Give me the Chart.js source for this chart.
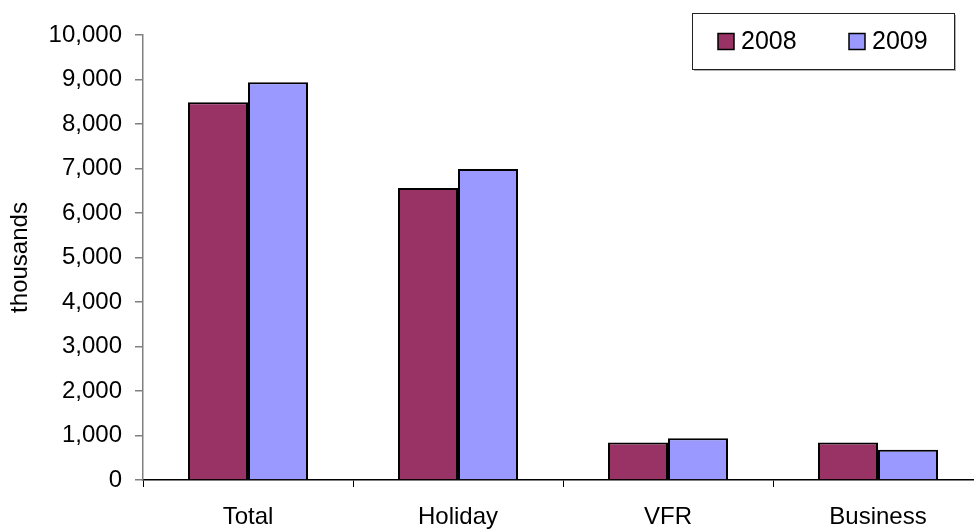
<!DOCTYPE html>
<html>
<head>
<meta charset="utf-8">
<script src="https://cdn.jsdelivr.net/npm/chart.js@4/dist/chart.umd.min.js"></script>
<style>
  html, body { margin: 0; padding: 0; background: #fff; overflow: hidden; }
  #wrap { width: 990px; height: 529px; position: relative; }
</style>
</head>
<body>
<div id="wrap"><canvas id="chart"></canvas></div>
<script>
// Trips by purpose, thousands
const categories = ['Total', 'Holiday', 'VFR', 'Business'];
const seriesLabels = ['2008', '2009'];
const values2008 = [8490, 6560, 840, 840];
const values2009 = [8940, 6990, 940, 680];
const yTickMax = 10000;
const yTickStep = 1000;
const yTitle = 'thousands';

const FONT = '"Liberation Sans", Arial, sans-serif';
const colours = ['#993366', '#9999FF'];

// Boxed legend in the top-right corner of the plot
const boxedLegend = {
  id: 'boxedLegend',
  afterDraw(chart) {
    const ctx = chart.ctx;
    const area = chart.chartArea;
    const x0 = area.right - 291, y0 = area.top - 22, w = 262, h = 56;
    ctx.save();
    // soft shadow
    ctx.fillStyle = '#b0b0b0';
    ctx.fillRect(x0 + 2, y0 + 2, w, h);
    ctx.fillStyle = '#fff';
    ctx.fillRect(x0, y0, w, h);
    ctx.strokeStyle = '#222';
    ctx.lineWidth = 1;
    ctx.strokeRect(x0 + 0.5, y0 + 0.5, w, h);
    ctx.font = '25px ' + FONT;
    ctx.textBaseline = 'middle';
    ctx.fillStyle = '#000';
    const cy = y0 + 28.5;
    const starts = [x0 + 26, x0 + 157];
    chart.data.datasets.forEach((ds, i) => {
      const sx = starts[i];
      ctx.fillStyle = ds.backgroundColor;
      ctx.fillRect(sx, cy - 8, 16, 16);
      ctx.strokeStyle = '#000';
      ctx.lineWidth = 1.5;
      ctx.strokeRect(sx, cy - 8, 16, 16);
      ctx.fillStyle = '#000';
      ctx.fillText(ds.label, sx + 23, cy + 1);
    });
    ctx.restore();
  }
};

new Chart(document.getElementById('chart'), {
  type: 'bar',
  data: {
    labels: categories,
    datasets: [
      { label: seriesLabels[0], data: values2008, backgroundColor: colours[0] },
      { label: seriesLabels[1], data: values2009, backgroundColor: colours[1] }
    ]
  },
  options: {
    responsive: true,
    maintainAspectRatio: false,
    animation: false,
    locale: 'en-US',
    layout: { padding: { top: 35, right: 7, bottom: 0, left: 0 } },
    datasets: {
      bar: {
        categoryPercentage: 120 / 210,
        barPercentage: 1,
        borderColor: '#000',
        borderWidth: 2
      }
    },
    plugins: {
      legend: { display: false },
      tooltip: { enabled: false }
    },
    scales: {
      x: {
        grid: { display: true, drawOnChartArea: false, offset: true, tickLength: 7, color: '#000', lineWidth: 1 },
        border: { display: true, color: '#000', width: 1.5 },
        ticks: { color: '#000', font: { family: FONT, size: 24 }, padding: 16, maxRotation: 0 },
        afterFit(scale) { scale.height = 49; }
      },
      y: {
        min: 0,
        max: yTickMax,
        grid: { display: true, drawOnChartArea: false, tickLength: 8, color: '#808080', lineWidth: 1.5 },
        border: { display: true, color: '#808080', width: 1.5 },
        ticks: { stepSize: yTickStep, color: '#000', font: { family: FONT, size: 24 }, padding: 13 },
        title: { display: true, text: yTitle, color: '#000', font: { family: FONT, size: 24 }, padding: { top: 6, bottom: 0 } },
        afterFit(scale) { scale.width = 143; }
      }
    }
  },
  plugins: [boxedLegend]
});
</script>
</body>
</html>
